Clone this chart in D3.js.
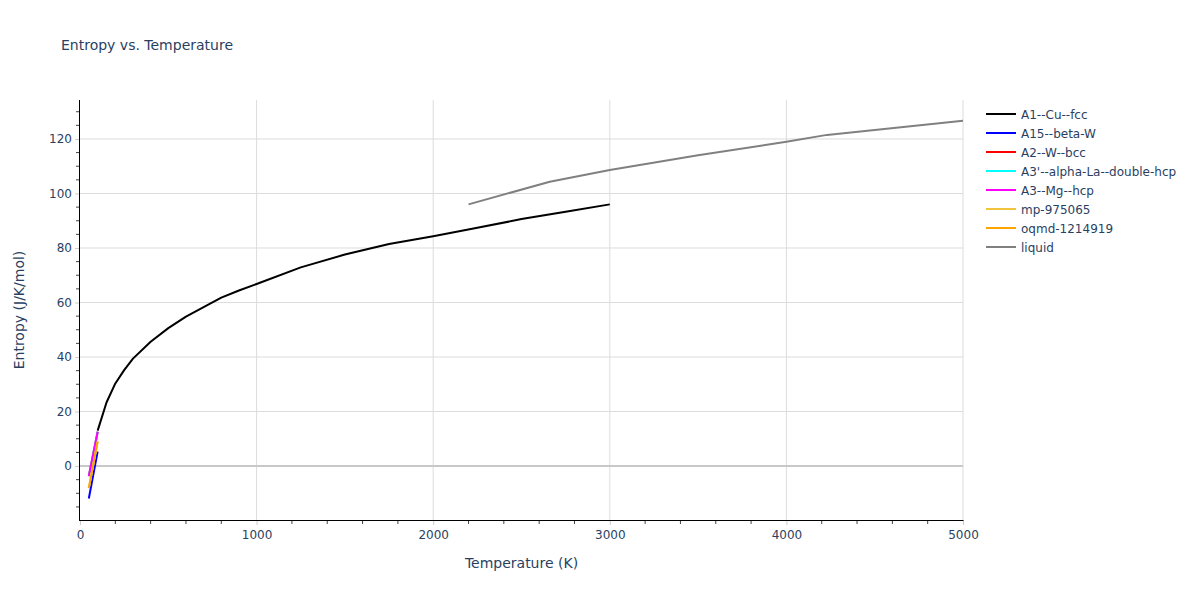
<!DOCTYPE html>
<html><head><meta charset="utf-8">
<script src="https://cdn.jsdelivr.net/npm/d3@7"></script>
<style>body{margin:0;background:#fff;} text{font-family:"DejaVu Sans",Verdana,sans-serif;}</style>
</head><body><svg id="c" width="1200" height="600"></svg>
<script>
// ---- data ----
const cuT = [100,150,200,250,300,400,500,600,700,800,900,1000,1250,1500,1750,2000,2250,2500,2750,3000];
const cuS = [13.0,23.3,30.3,35.2,39.4,45.6,50.6,54.8,58.3,61.8,64.4,66.8,72.9,77.6,81.5,84.3,87.4,90.6,93.3,96.0];
const lowT = [50,100];
const betaW = [-11.9,5.3];
const bccW = [-3.7,12.6];
const dhcpLa = [-3.7,12.6];
const hcpMg = [-3.7,12.6];
const mp975065 = [-8.1,9.0];
const oqmd1214919 = [-8.1,9.0];
const liqT = [2200,2660,3000,3500,4000,4230,5000];
const liqS = [96.0,104.3,108.6,114.0,119.0,121.5,126.7];
const seriesNames = ["A1--Cu--fcc","A15--beta-W","A2--W--bcc","A3'--alpha-La--double-hcp","A3--Mg--hcp","mp-975065","oqmd-1214919","liquid"];
const seriesColors = ["#000000","#0000ff","#ff0000","#00ffff","#ff00ff","#f0c43c","#ffa500","#808080"];
const xTicks = [0,1000,2000,3000,4000,5000];
const yTicks = [0,20,40,60,80,100,120];

const series = [
  {T:cuT,S:cuS},{T:lowT,S:betaW},{T:lowT,S:bccW},{T:lowT,S:dhcpLa},
  {T:lowT,S:hcpMg},{T:lowT,S:mp975065},{T:lowT,S:oqmd1214919},{T:liqT,S:liqS}
];

const svg = d3.select("#c");
const L=80,R=963,T=100,B=520;
const x = d3.scaleLinear().domain([0,5000]).range([L,R]);
const y = d3.scaleLinear().domain([-19.8,134.3]).range([B,T]);
const fc = "#2a3f5f";

// grid
svg.append("g").selectAll("line").data(xTicks.filter(d=>d>0)).join("line")
  .attr("x1",d=>x(d)).attr("x2",d=>x(d)).attr("y1",T).attr("y2",B)
  .attr("stroke","#dcdcdc").attr("stroke-width",1);
svg.append("g").selectAll("line").data(yTicks.filter(d=>d!==0)).join("line")
  .attr("x1",L).attr("x2",R).attr("y1",d=>y(d)).attr("y2",d=>y(d))
  .attr("stroke","#dcdcdc").attr("stroke-width",1);
// zero line
svg.append("line").attr("x1",L).attr("x2",R).attr("y1",y(0)).attr("y2",y(0))
  .attr("stroke","#c8c8c8").attr("stroke-width",2);

// axes
const xAxis = d3.axisBottom(x).tickValues(xTicks).tickSize(5).tickPadding(5).tickFormat(d3.format("d"));
const gx = svg.append("g").attr("transform",`translate(0,${B})`).call(xAxis);
gx.select(".domain").remove();
gx.selectAll(".tick line").attr("stroke","#cccccc");
gx.selectAll("text").attr("fill",fc).attr("font-size",12).attr("font-family","'DejaVu Sans',Verdana,sans-serif");
const xMinor = d3.range(200,5000,200).filter(d=>d%1000!==0);
svg.append("g").selectAll("line").data(xMinor).join("line")
  .attr("x1",d=>x(d)).attr("x2",d=>x(d)).attr("y1",B).attr("y2",B+4).attr("stroke","#444");

const yAxis = d3.axisLeft(y).tickValues(yTicks).tickSize(5).tickPadding(3);
const gy = svg.append("g").attr("transform",`translate(${L},0)`).call(yAxis);
gy.select(".domain").remove();
gy.selectAll(".tick line").attr("stroke","#cccccc");
gy.selectAll("text").attr("fill",fc).attr("font-size",12).attr("font-family","'DejaVu Sans',Verdana,sans-serif");
const yMinor = d3.range(-15,135,5).filter(d=>d%20!==0);
svg.append("g").selectAll("line").data(yMinor).join("line")
  .attr("x1",L-4).attr("x2",L).attr("y1",d=>y(d)).attr("y2",d=>y(d)).attr("stroke","#444");

svg.append("line").attr("x1",L).attr("x2",R+0.5).attr("y1",B+0.5).attr("y2",B+0.5).attr("stroke","#000");
svg.append("line").attr("x1",L-0.5).attr("x2",L-0.5).attr("y1",T).attr("y2",B+1).attr("stroke","#000");

// lines
svg.append("clipPath").attr("id","clip").append("rect").attr("x",L).attr("y",T).attr("width",R-L).attr("height",B-T);
const line = d3.line().x(d=>x(d[0])).y(d=>y(d[1]));
const gl = svg.append("g").attr("clip-path","url(#clip)");
series.forEach((s,i)=>{
  gl.append("path").datum(s.T.map((t,j)=>[t,s.S[j]]))
    .attr("d",line).attr("fill","none").attr("stroke",seriesColors[i])
    .attr("stroke-width",2).attr("stroke-linejoin","round");
});

// title
svg.append("text").attr("x",61).attr("y",50).attr("font-size",14).attr("fill",fc).text("Entropy vs. Temperature");
// axis titles
svg.append("text").attr("x",(L+R)/2).attr("y",568).attr("text-anchor","middle").attr("font-size",14).attr("fill",fc).text("Temperature (K)");
svg.append("text").attr("transform",`translate(24,${(T+B)/2}) rotate(-90)`).attr("text-anchor","middle").attr("font-size",14).attr("fill",fc).text("Entropy (J/K/mol)");

// legend
const lg = svg.append("g");
seriesNames.forEach((n,i)=>{
  const yy = 114 + i*19;
  lg.append("line").attr("x1",986).attr("x2",1016).attr("y1",yy).attr("y2",yy).attr("stroke",seriesColors[i]).attr("stroke-width",2);
  lg.append("text").attr("x",1021).attr("y",yy+4.5).attr("font-size",12).attr("fill",fc).text(n);
});
</script></body></html>
